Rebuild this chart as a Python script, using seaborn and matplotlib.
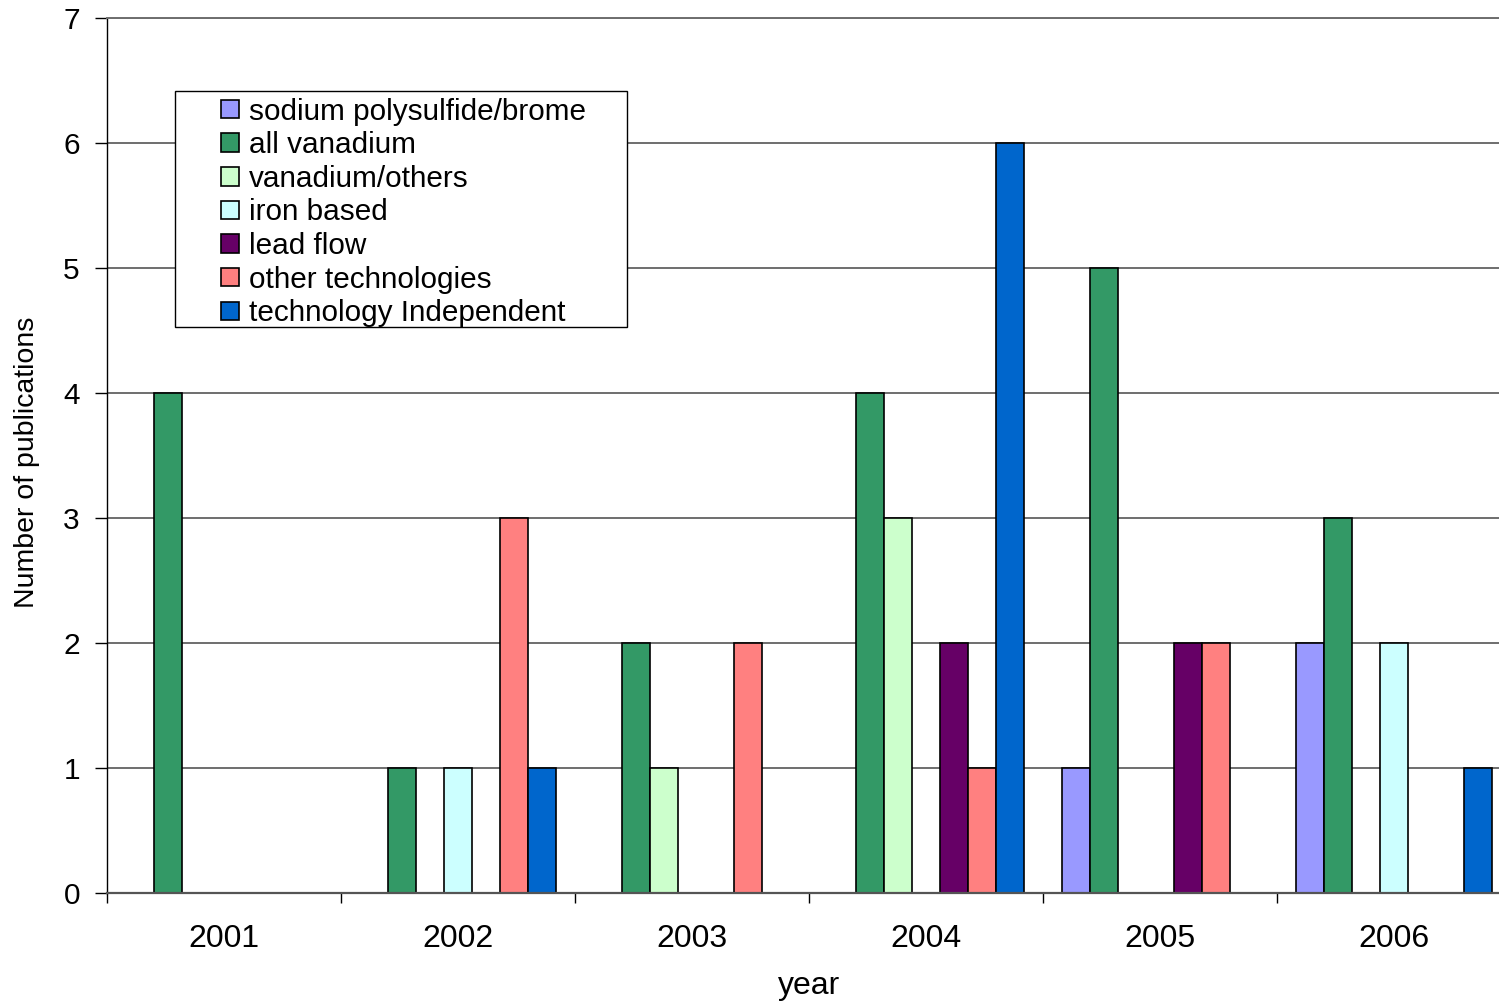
import numpy as np
import pandas as pd
import matplotlib
matplotlib.use("Agg")
import matplotlib.pyplot as plt
from matplotlib.patches import Rectangle
from matplotlib.ticker import FixedLocator
import seaborn as sns

# Publications per year and flow-battery technology
years = ["2001", "2002", "2003", "2004", "2005", "2006"]
technologies = [
    "sodium polysulfide/brome",
    "all vanadium",
    "vanadium/others",
    "iron based",
    "lead flow",
    "other technologies",
    "technology Independent",
]
sodium_polysulfide = [0, 0, 0, 0, 1, 2]
all_vanadium = [4, 1, 2, 4, 5, 3]
vanadium_others = [0, 0, 1, 3, 0, 0]
iron_based = [0, 1, 0, 0, 0, 2]
lead_flow = [0, 0, 0, 2, 2, 0]
other_technologies = [0, 3, 2, 1, 2, 0]
technology_independent = [0, 1, 0, 6, 0, 1]
colors = ["#9999FF", "#339966", "#CCFFCC", "#CCFFFF", "#660066", "#FF8080", "#0066CC"]

series = [sodium_polysulfide, all_vanadium, vanadium_others, iron_based,
          lead_flow, other_technologies, technology_independent]
rows = []
for tech, vals in zip(technologies, series):
    for yr, v in zip(years, vals):
        rows.append({"year": yr, "technology": tech, "count": v})
df = pd.DataFrame(rows)
# empty cells are left out so no zero-height outlines are drawn
df_bars = df[df["count"] > 0]

sns.set_theme(style="white")
plt.rcParams["font.family"] = ["Liberation Sans", "DejaVu Sans"]

W, H = 1499, 1002
fig = plt.figure(figsize=(W / 100, H / 100), dpi=100)
ax = fig.add_axes([107 / W, 109 / H, 1404 / W, 875 / H])

sns.barplot(
    data=df_bars, x="year", y="count", hue="technology",
    order=years, hue_order=technologies, palette=colors,
    saturation=1, width=0.8376, dodge=True, errorbar=None,
    edgecolor="black", linewidth=1.2, ax=ax,
)

ax.set_xlim(-0.5, len(years) - 0.5)
ax.set_ylim(0, 7)
ax.set_yticks(range(0, 8))
ax.set_axisbelow(True)
ax.yaxis.grid(True, color="#6e6e6e", linewidth=1.4)
ax.xaxis.grid(False)

ax.spines["right"].set_visible(False)
ax.spines["top"].set_color("#6e6e6e")
ax.spines["top"].set_linewidth(1.4)
ax.spines["bottom"].set_color("#555555")
ax.spines["bottom"].set_linewidth(1.6)
ax.spines["left"].set_color("black")
ax.spines["left"].set_linewidth(1.0)

# year labels centred, tick marks on the category boundaries
ax.tick_params(axis="x", which="major", length=0, pad=22.5, labelsize=23, colors="black")
ax.xaxis.set_minor_locator(FixedLocator(np.arange(-0.5, len(years), 1.0)))
ax.tick_params(axis="x", which="minor", bottom=True, length=7, width=1.0, color="black", direction="out")
ax.tick_params(axis="y", which="major", left=True, length=8.5, width=1.0, color="black",
               direction="out", pad=11, labelsize=21.5, labelcolor="black")

ax.set_xlabel("year", fontsize=23, color="black")
ax.set_ylabel("Number of publications", fontsize=20.5, color="black")
ax.xaxis.set_label_coords(0.5, -0.0895)
ax.yaxis.set_label_coords(-0.0477, 0.4926)

handles, labels = ax.get_legend_handles_labels()
ax.get_legend().remove()
leg = fig.legend(
    handles, labels, loc="upper left",
    bbox_to_anchor=(221 / W, 1 - 97.5 / H), bbox_transform=fig.transFigure,
    frameon=False, fontsize=21.4, borderpad=0, borderaxespad=0,
    labelspacing=0.19, handlelength=0.6, handleheight=0.58, handletextpad=0.34,
)
for t in leg.get_texts():
    t.set_color("black")
fig.patches.append(Rectangle((175 / W, 1 - 327 / H), 452 / W, 236 / H,
                             transform=fig.transFigure, fill=True, facecolor="white",
                             edgecolor="black", linewidth=1.0, zorder=4))
leg.set_zorder(5)

fig.savefig("out.png", dpi=100)
